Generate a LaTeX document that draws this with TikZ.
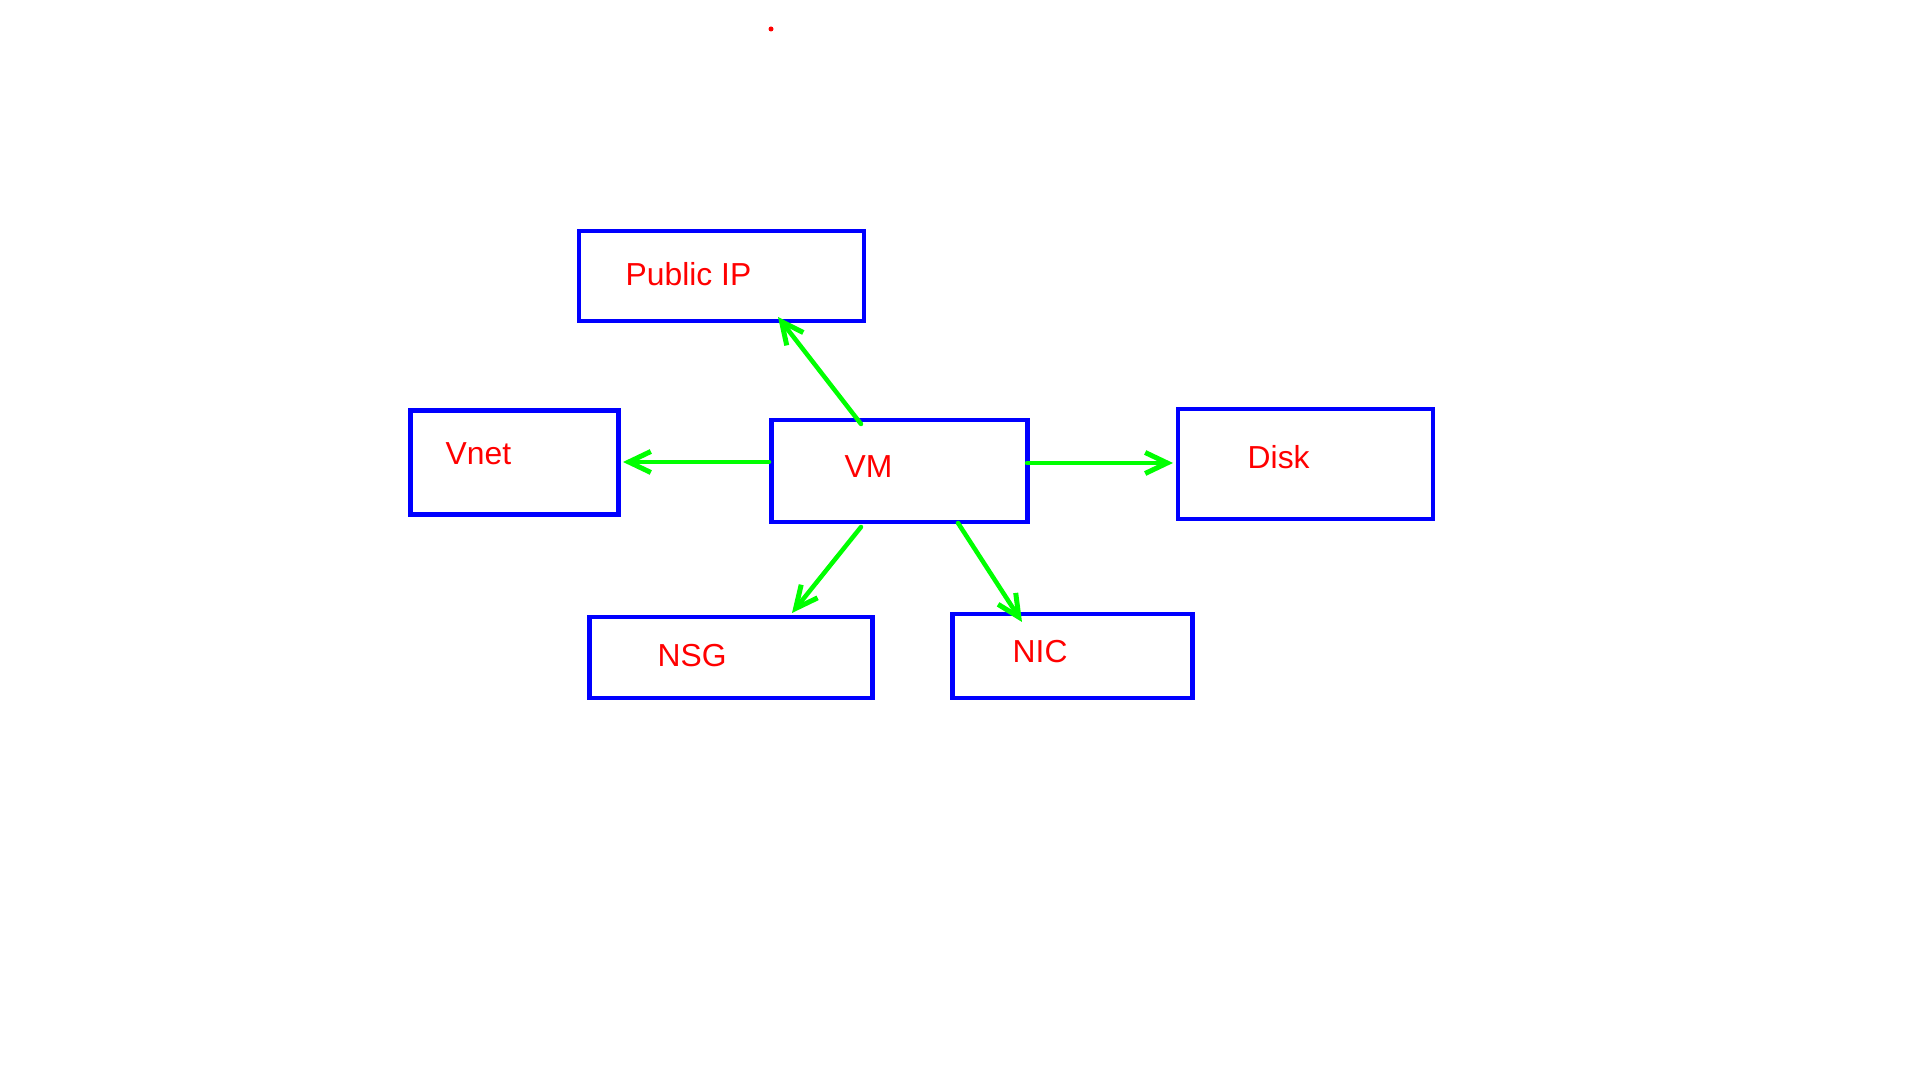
\documentclass[tikz,border=0pt]{standalone}
\usepackage{fontspec}
\setmainfont{Liberation Sans}
\usetikzlibrary{arrows.meta}
\definecolor{boxblue}{RGB}{0,0,255}
\definecolor{txtred}{RGB}{255,0,0}
\definecolor{arrgreen}{RGB}{0,255,0}
\begin{document}
\begin{tikzpicture}[x=0.01cm,y=-0.01cm,
  boxnode/.style={draw=boxblue, line width=0.045cm, inner sep=0pt, fill=none},
  lbl/.style={anchor=base west, inner sep=0pt, text=txtred, font=\fontsize{9.05pt}{11pt}\selectfont},
  conn/.style={draw=arrgreen, line width=0.045cm, line cap=round,
    -{Straight Barb[length=0.22cm, width=0.21cm, line width=0.05cm]}}]
\useasboundingbox[fill=white] (0,0) rectangle (1920,1080);
% boxes
\node[boxnode, minimum width=2.85cm, minimum height=0.90cm] (pip) at (721.5,276) {};
\node[boxnode, minimum width=2.08cm, minimum height=1.035cm] (vnet) at (514.5,462.5) {};
\node[boxnode, minimum width=2.56cm, minimum height=1.02cm] (vm) at (899.5,471) {};
\node[boxnode, minimum width=2.55cm, minimum height=1.10cm] (disk) at (1305.5,464) {};
\node[boxnode, minimum width=2.83cm, minimum height=0.81cm] (nsg) at (731,657.3) {};
\node[boxnode, minimum width=2.40cm, minimum height=0.84cm] (nic) at (1072.4,655.8) {};
% labels
\node[lbl] (tpip) at (625,286) {Public IP};
\node[lbl] (tvnet) at (445,465) {Vnet};
\node[lbl] (tvm) at (844,478) {VM};
\node[lbl] (tdisk) at (1247,469) {Disk};
\node[lbl] (tnsg) at (657,667) {NSG};
\node[lbl] (tnic) at (1012,663) {NIC};
% connector end points
\coordinate (vmA) at (861,424);
\coordinate (pipT) at (778,317);
\coordinate (vmL) at (769,462);
\coordinate (vnetT) at (623,462);
\coordinate (vmR) at (1027,463);
\coordinate (diskT) at (1173,463);
\coordinate (vmB1) at (861,527);
\coordinate (nsgT) at (792,613);
\coordinate (vmB2) at (958,523);
\coordinate (nicT) at (1022,622);
% connectors
\draw[conn] (vmA) -- (pipT);
\draw[conn] (vmL) -- (vnetT);
\draw[conn] (vmR) -- (diskT);
\draw[conn] (vmB1) -- (nsgT);
\draw[conn] (vmB2) -- (nicT);
% red dot
\fill[txtred] (771,29) circle[radius=0.025cm];
\end{tikzpicture}
\end{document}
